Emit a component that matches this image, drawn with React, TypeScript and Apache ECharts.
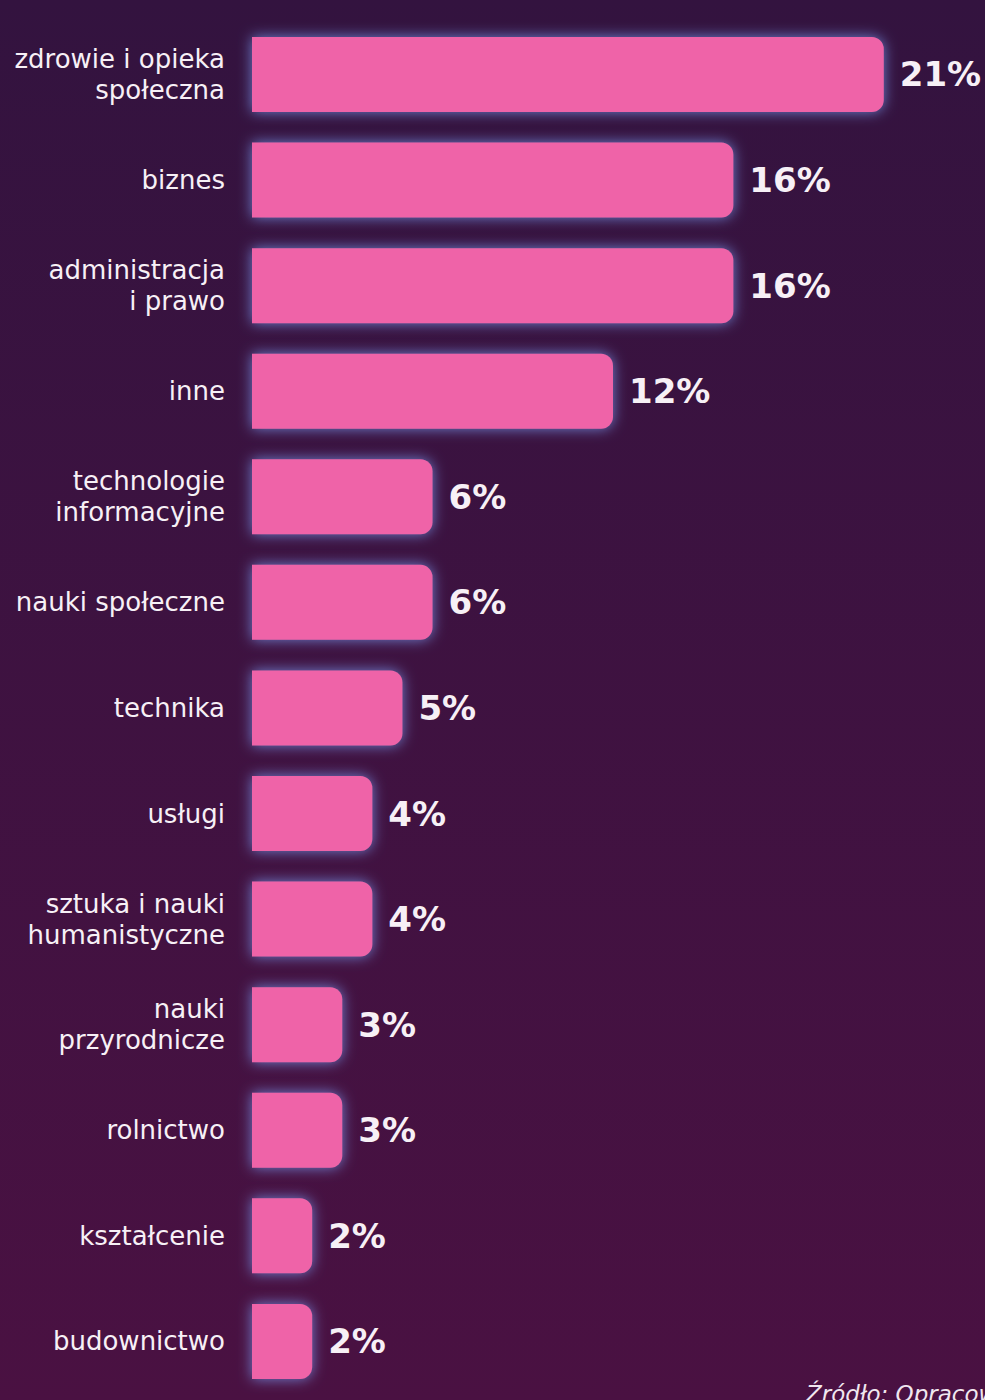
import React, { useEffect, useRef } from "react";
import * as echarts from "echarts";

const categories = [
  "zdrowie i opieka\nspołeczna",
  "biznes",
  "administracja\ni prawo",
  "inne",
  "technologie\ninformacyjne",
  "nauki społeczne",
  "technika",
  "usługi",
  "sztuka i nauki\nhumanistyczne",
  "nauki\nprzyrodnicze",
  "rolnictwo",
  "kształcenie",
  "budownictwo",
];
const values = [21, 16, 16, 12, 6, 6, 5, 4, 4, 3, 3, 2, 2];
const sourceText = "Źródło: Opracowanie własne";

export default function App() {
  const ref = useRef<HTMLDivElement>(null);
  useEffect(() => {
    if (!ref.current) return;
    const chart = echarts.init(ref.current, null, { renderer: "svg" });
    chart.setOption({
      animation: false,
      backgroundColor: {
        type: "linear",
        x: 0,
        y: 0,
        x2: 0,
        y2: 1,
        colorStops: [
          { offset: 0, color: "#33133f" },
          { offset: 1, color: "#4a1142" },
        ],
      },
      grid: { left: 252, top: 21.7, height: 1372.5, right: 11, containLabel: false },
      xAxis: {
        type: "value",
        min: 0,
        max: 24,
        show: false,
      },
      yAxis: {
        type: "category",
        inverse: true,
        data: categories,
        axisLine: { show: false },
        axisTick: { show: false },
        axisLabel: {
          margin: 27,
          color: "#f7f0f6",
          fontFamily: "DejaVu Sans",
          fontSize: 26,
          lineHeight: 31,
          align: "right",
        },
      },
      series: [
        {
          type: "bar",
          data: values,
          barWidth: 75,
          itemStyle: {
            color: "#ef64a8",
            borderRadius: [0, 12, 12, 0],
            shadowColor: "rgba(120,150,235,0.85)",
            shadowBlur: 14,
          },
          label: {
            show: true,
            position: "right",
            distance: 16,
            formatter: "{c}%",
            color: "#f7f0f6",
            fontFamily: "DejaVu Sans",
            fontWeight: "bold",
            fontSize: 34,
          },
        },
      ],
      graphic: [
        {
          type: "line",
          shape: { x1: 251, y1: 13, x2: 251, y2: 1400 },
          style: {
            stroke: "#ffffff",
            lineWidth: 2.5,
            shadowColor: "rgba(120,150,235,0.7)",
            shadowBlur: 6,
          },
          z: 10,
        },
        {
          type: "text",
          x: 806,
          y: 1382,
          style: {
            text: sourceText,
            fill: "#f0e6ef",
            font: "italic 23px 'DejaVu Sans'",
            textVerticalAlign: "top",
          },
        },
      ],
    });
    return () => chart.dispose();
  }, []);
  return (
    <div
      ref={ref}
      style={{ position: "absolute", left: 0, top: 0, width: 985, height: 1400 }}
    />
  );
}
